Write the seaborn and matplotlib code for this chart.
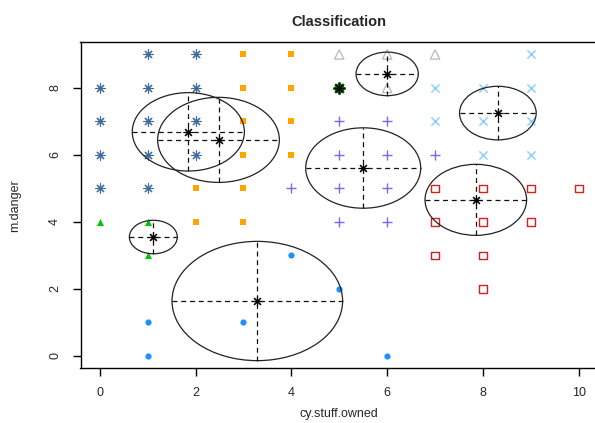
import numpy as np
import pandas as pd
import matplotlib
matplotlib.use("Agg")
import matplotlib.pyplot as plt
from matplotlib.patches import Ellipse
import seaborn as sns

# ---- data ----
grp_a_x = [0, 0, 0, 0, 1, 1, 1, 1, 1, 2, 2, 2, 2]
grp_a_y = [8, 7, 6, 5, 9, 8, 7, 6, 5, 9, 8, 7, 6]
grp_b_x = [2, 2, 3, 3, 3, 3, 3, 3, 4, 4, 4, 4]
grp_b_y = [5, 4, 9, 8, 7, 6, 5, 4, 9, 8, 7, 6]
grp_c_x = [0, 1, 1]
grp_c_y = [4, 4, 3]
grp_d_x = [1, 1, 3, 4, 5, 6]
grp_d_y = [1, 0, 1, 3, 2, 0]
grp_e_x = [4, 5, 5, 5, 5, 6, 6, 6, 6, 7]
grp_e_y = [5, 7, 6, 5, 4, 7, 6, 5, 4, 6]
grp_f_x = [5]
grp_f_y = [8]
grp_g_x = [5, 6, 6, 7]
grp_g_y = [9, 9, 8, 9]
grp_h_x = [7, 7, 8, 8, 8, 9, 9, 9, 9]
grp_h_y = [8, 7, 8, 7, 6, 9, 8, 7, 6]
grp_i_x = [7, 8, 9, 10, 7, 8, 9, 7, 8, 8]
grp_i_y = [5, 5, 5, 5, 4, 4, 4, 3, 3, 2]

# cluster summaries (center and radius)
centers_x = [1.85, 2.48, 6.0, 5.5, 8.31, 7.85, 1.12, 3.29, 5.0]
centers_y = [6.69, 6.45, 8.42, 5.61, 7.25, 4.66, 3.55, 1.64, 8.0]
radii = [1.17, 1.27, 0.65, 1.2, 0.8, 1.06, 0.5, 1.78, 0.0]

x_ticks = [0, 2, 4, 6, 8, 10]
y_ticks = [0, 2, 4, 6, 8]

groups = [
    ("a", grp_a_x, grp_a_y, dict(marker=(8, 2, 0), color="#3B6C9C", s=45, linewidths=0.8)),
    ("b", grp_b_x, grp_b_y, dict(marker="s", color="#FFA500", s=18, linewidths=0)),
    ("c", grp_c_x, grp_c_y, dict(marker="^", color="#00C800", s=26, linewidths=0)),
    ("d", grp_d_x, grp_d_y, dict(marker="o", color="#1E90FF", s=20, linewidths=0)),
    ("e", grp_e_x, grp_e_y, dict(marker="+", color="#7B68EE", s=60, linewidths=1.0)),
    ("f", grp_f_x, grp_f_y, dict(marker=(8, 2, 0), color="#006400", s=50, linewidths=2.0)),
    ("g", grp_g_x, grp_g_y, dict(marker="^", facecolors="none", edgecolors="#BEBEBE", s=45, linewidths=1.0)),
    ("h", grp_h_x, grp_h_y, dict(marker="x", color="#87CEFA", s=35, linewidths=1.0)),
    ("i", grp_i_x, grp_i_y, dict(marker="s", facecolors="none", edgecolors="#D42020", s=30, linewidths=1.0)),
]

rows = []
for name, xs, ys, _ in groups:
    for x, y in zip(xs, ys):
        rows.append({"x": x, "y": y, "cluster": name})
df = pd.DataFrame(rows)

sns.set_style("white")
plt.rcParams["font.family"] = ["Liberation Sans", "DejaVu Sans"]

fig = plt.figure(figsize=(5.95, 4.23), dpi=100)
W, H = 595, 423
ax = fig.add_axes([80.5 / W, (H - 368) / H, 517.5 / W, 325.6 / H])

for name, _, _, kw in groups:
    sub = df[df["cluster"] == name]
    sns.scatterplot(data=sub, x="x", y="y", ax=ax, legend=False, zorder=2, **kw)

for cx, cy, r in zip(centers_x, centers_y, radii):
    if r > 0:
        ax.add_patch(Ellipse((cx, cy), 2 * r, 2 * r, fill=False, edgecolor="#222222",
                             linewidth=0.9, zorder=3))
        ax.plot([cx - r, cx + r], [cy, cy], color="#111111", lw=0.9, ls=(0, (4, 3)), zorder=3)
        ax.plot([cx, cx], [cy - r, cy + r], color="#111111", lw=0.9, ls=(0, (4, 3)), zorder=3)
    ax.plot([cx], [cy], marker=(8, 2, 0), color="black", ms=7, mew=0.8, ls="none", zorder=4)

ax.set_xlim(-0.4, 10.4)
ax.set_ylim(-0.36, 9.36)
ax.set_xticks(x_ticks)
ax.set_yticks(y_ticks)
ax.set_xticklabels([str(t) for t in x_ticks], fontsize=9)
ax.set_yticklabels([str(t) for t in y_ticks], fontsize=9, rotation=90, va="center")
ax.tick_params(axis="both", direction="out", length=6, width=1, color="black",
               bottom=True, left=True, top=False, right=False, pad=8)
for sp in ax.spines.values():
    sp.set_visible(True)
    sp.set_color("black")
    sp.set_linewidth(1.0)

ax.set_xlabel("cy.stuff.owned", fontsize=9, labelpad=6)
ax.set_ylabel("m.danger", fontsize=9, labelpad=20)
ax.set_title("Classification", fontsize=10.5, fontweight="bold", pad=12)

fig.savefig("out.png", dpi=100)
